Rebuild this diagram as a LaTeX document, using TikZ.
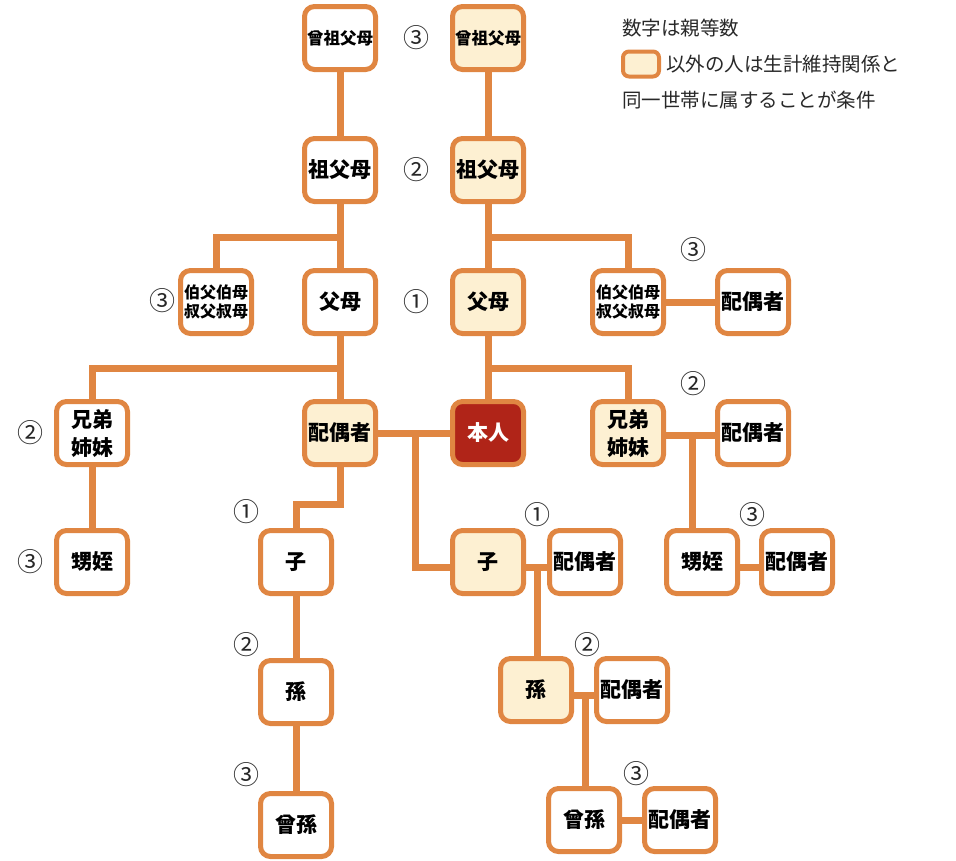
\documentclass[tikz,border=0pt]{standalone}
\usepackage{fontspec}
\setmainfont{Noto Sans CJK JP}
\usetikzlibrary{calc}
\definecolor{ob}{RGB}{224,134,66}
\definecolor{cream}{RGB}{253,240,210}
\definecolor{selfred}{RGB}{176,36,24}
\definecolor{txt}{RGB}{40,40,40}
\tikzset{
  pbox/.style={draw=ob, line width=5pt, rounded corners=10pt, minimum width=71pt, minimum height=63pt,
    fill=white, inner sep=0pt, align=center, text=black, font=\bfseries\fontsize{21}{27}\selectfont},
  fam/.style={pbox, fill=cream},
  small/.style={font=\bfseries\fontsize{16.5}{19}\selectfont},
  tiny/.style={font=\bfseries\fontsize{16}{19}\selectfont},
  two/.style={font=\bfseries\fontsize{21}{28}\selectfont},
  me/.style={pbox, fill=selfred, text=white},
  deg/.style={text=txt, inner sep=0pt, font=\fontsize{26}{26}\selectfont},
  conn/.style={draw=ob, line width=7pt},
  legtext/.style={text=txt, inner sep=0pt, anchor=west, font=\fontsize{19.5}{22}\selectfont}
}
\begin{document}
\begin{tikzpicture}[x=1pt,y=-1pt]
\useasboundingbox (0,0) rectangle (956,860);
% nodes
\node[pbox,small] (ggpL) at (340,38) {曾祖父母};
\node[fam,small] (ggpR) at (488,38) {曾祖父母};
\node[pbox] (gpL) at (340,170) {祖父母};
\node[fam] (gpR) at (488,170) {祖父母};
\node[pbox,tiny] (uncL) at (216,302) {伯父伯母\\叔父叔母};
\node[pbox] (pL) at (340,302) {父母};
\node[fam] (pR) at (488,302) {父母};
\node[pbox,tiny] (uncR) at (628,302) {伯父伯母\\叔父叔母};
\node[pbox] (uncRsp) at (753,302) {配偶者};
\node[pbox,two] (sibL) at (92,433) {兄弟\\姉妹};
\node[fam] (sp) at (340,433) {配偶者};
\node[me] (self) at (488,433) {本人};
\node[fam,two] (sibR) at (628,433) {兄弟\\姉妹};
\node[pbox] (sibRsp) at (753,433) {配偶者};
\node[pbox] (nephL) at (92,562) {甥姪};
\node[pbox] (childL) at (296,562) {子};
\node[fam] (childR) at (488,562) {子};
\node[pbox] (childRsp) at (585,562) {配偶者};
\node[pbox] (nephR) at (702,562) {甥姪};
\node[pbox] (nephRsp) at (797,562) {配偶者};
\node[pbox] (gcL) at (296,692) {孫};
\node[fam] (gcR) at (536,690) {孫};
\node[pbox] (gcRsp) at (632,690) {配偶者};
\node[pbox] (ggcL) at (296,825) {曾孫};
\node[pbox] (ggcR) at (584,820) {曾孫};
\node[pbox] (ggcRsp) at (680,820) {配偶者};
% degree labels
\node[deg] (d1) at (416,38) {③};
\node[deg] (d2) at (416,170) {②};
\node[deg] (d3) at (416,302) {①};
\node[deg] (d4) at (162,301) {③};
\node[deg] (d5) at (693,250) {③};
\node[deg] (d6) at (30,433) {②};
\node[deg] (d7) at (693,384) {②};
\node[deg] (d8) at (30,562) {③};
\node[deg] (d9) at (246,512) {①};
\node[deg] (d10) at (537,515) {①};
\node[deg] (d11) at (752,515) {③};
\node[deg] (d12) at (246,645) {②};
\node[deg] (d13) at (587,645) {②};
\node[deg] (d14) at (246,775) {③};
\node[deg] (d15) at (636,774) {③};
% legend
\node[legtext] (l1) at (622,28) {数字は親等数};
\node[draw=ob, line width=4pt, fill=cream, rounded corners=6pt, minimum width=36pt, minimum height=25pt, inner sep=0pt] (lbox) at (641,64) {};
\node[legtext] (l2) at (666,64) {以外の人は生計維持関係と};
\node[legtext] (l3) at (622,100) {同一世帯に属することが条件};
% junction coordinates
\coordinate (busGL) at (340,237);
\coordinate (busGR) at (488,237);
\coordinate (busPL) at (340,368);
\coordinate (busPR) at (488,368);
\coordinate (jSp) at (415,433);
\coordinate (jSpD) at (340,504);
\coordinate (jCh) at (537,567);
\coordinate (jGc) at (585,695);
\coordinate (jSib) at (692,435);
% connectors
\draw[conn] (ggpL) -- (gpL);
\draw[conn] (ggpR) -- (gpR);
\draw[conn] (gpL) -- (pL);
\draw[conn] (uncL.north) |- (busGL);
\draw[conn] (gpR) -- (pR);
\draw[conn] (busGR) -| (uncR.north);
\draw[conn] (uncR) -- (uncRsp);
\draw[conn] (pL) -- (sp);
\draw[conn] (sibL.north) |- (busPL);
\draw[conn] (pR) -- (self);
\draw[conn] (busPR) -| (sibR.north);
\draw[conn] (sp) -- (self);
\draw[conn] (jSp) |- ($(childR.west)+(0,5)$);
\draw[conn] (sp.south) -- (jSpD) -| (childL.north);
\draw[conn] (sibL) -- (nephL);
\draw[conn] (childL) -- (gcL);
\draw[conn] (gcL) -- (ggcL);
\draw[conn] ($(childR.east)+(0,5)$) -- ($(childRsp.west)+(0,5)$);
\draw[conn] (jCh) -- (gcR.north -| jCh);
\draw[conn] ($(gcR.east)+(0,5)$) -- ($(gcRsp.west)+(0,5)$);
\draw[conn] (jGc) -- (ggcR.north -| jGc);
\draw[conn] (ggcR) -- (ggcRsp);
\draw[conn] ($(sibR.east)+(0,2)$) -- ($(sibRsp.west)+(0,2)$);
\draw[conn] (jSib) -- (nephR.north -| jSib);
\draw[conn] ($(nephR.east)+(0,5)$) -- ($(nephRsp.west)+(0,5)$);
\end{tikzpicture}
\end{document}
